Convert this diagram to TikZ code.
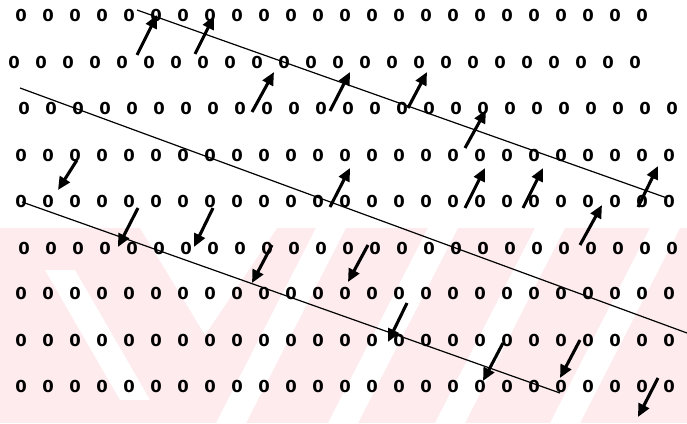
\documentclass[tikz,border=0pt]{standalone}
\usepackage{fontspec}
\setmainfont{DejaVu Sans}
\usetikzlibrary{arrows.meta}
\definecolor{wmpink}{HTML}{FDEBEE}

\begin{document}
\begin{tikzpicture}[x=1pt, y=-1pt,
  site/.style={font=\bfseries\fontsize{16.5}{16.5}\selectfont, inner sep=0pt},
  plane/.style={line width=1.2pt},
  hop/.style={line width=3.1pt, -{Triangle[length=13pt,width=11.5pt]}}
]
\useasboundingbox (0,0) rectangle (687,423);
% faint watermark behind the lower rows
\begin{scope}
  \clip (0,228) rectangle (687,423);
  \fill[wmpink] (0,228) rectangle (687,423);
  \fill[white] (140,228) -- (277,228) -- (205,335) -- cycle;
  \fill[white] (45,270) -- (75,270) -- (150,400) -- (120,400) -- cycle;
  \foreach \xt in {316,428,535,650}
    \fill[white] (\xt,228) -- ({\xt+30},228) -- ({\xt-70},423) -- ({\xt-100},423) -- cycle;
\end{scope}
% rows of sites: row / y / first x / last index
\foreach \r/\y/\xs/\n in {1/15/21/23, 2/62/14/23, 3/108/24/24, 4/155/21/24,
    5/201/21/24, 6/248/24/24, 7/293/21/24, 8/340/21/24, 9/386/21/24}
  \foreach \c in {0,...,\n}
    \node[site] (s\r-\c) at ({\xs+27*\c},\y) {0};
% slip planes
\coordinate (pa1) at (137,10);  \coordinate (pa2) at (667,198);
\coordinate (pb1) at (20,88);   \coordinate (pb2) at (687,333);
\coordinate (pc1) at (22,202);  \coordinate (pc2) at (560,393);
\draw[plane] (pa1) -- (pa2);
\draw[plane] (pb1) -- (pb2);
\draw[plane] (pc1) -- (pc2);
% upward hops
\foreach \xa/\ya/\xb/\yb in {137/55/157/15, 195/54/214/16, 252/112/274/72,
    330/111/350/72, 408/108/427/72, 465/148/486/110, 330/207/350/168,
    465/208/485/168, 523/208/543/168, 638/207/658/166, 580/245/602/205}
  \draw[hop] (\xa,\ya) -- (\xb,\yb);
% downward hops
\foreach \xa/\ya/\xb/\yb in {77/160/58/190, 138/208/118/247, 213/208/194/247,
    272/245/252/283, 368/245/348/282, 407/303/388/342, 503/343/483/381,
    580/340/560/378, 658/378/638/417}
  \draw[hop] (\xa,\ya) -- (\xb,\yb);
\end{tikzpicture}
\end{document}
